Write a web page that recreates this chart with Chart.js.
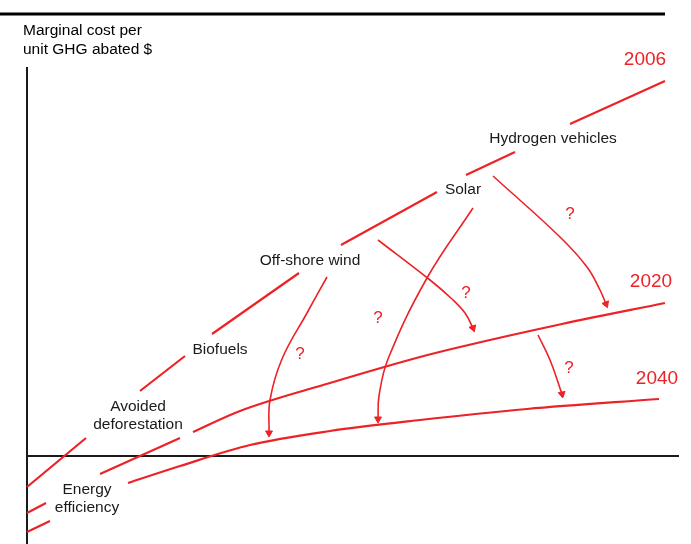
<!DOCTYPE html>
<html>
<head>
<meta charset="utf-8">
<script src="https://cdn.jsdelivr.net/npm/chart.js@4"></script>
<style>
html,body{margin:0;padding:0;background:#fff;}
canvas{display:block;}
</style>
</head>
<body>
<canvas id="c" width="691" height="544"></canvas>
<script>
// ---- Data (x = abatement units, y = marginal cost units; 0,0 = axes origin) ----
const curve2006 = [[0,-3.1],[5.9,1.8],null,[11.3,6.5],[15.8,10.0],null,[18.5,12.2],[27.2,18.3],null,
  [31.4,21.1],[41.0,26.4],null,[43.9,28.1],[48.8,30.4],null,[54.3,33.2],[63.8,37.5]];
const curve2020 = [[0,-7.6],[2.3,-6.5],null,[7.3,-1.8],[15.3,1.8],null,[16.6,2.4],[21.3,4.5],
  [30.3,7.3],[39.3,9.9],[43.3,10.9],[53.5,13.2],[63.8,15.3]];
const curve2040 = [[0,-5.7],[1.9,-4.7],null,[10.1,-2.7],[15.3,-1.0],[22.3,1.1],[30.3,2.5],
  [39.3,3.6],[50.0,4.7],[63.2,5.7]];
const arrowWind = [[30.0,17.9],[28.0,14.3],[25.5,9.7],[24.3,5.6],[24.2,2.3]];
const arrowSolar = [[44.6,24.8],[40.0,17.8],[36.1,9.7],[35.2,6.0],[35.1,3.7]];
const arrowSolar2 = [[35.1,21.6],[40.3,17.6],[42.5,15.7],[43.8,14.3],[44.6,12.8]];
const arrowHydrogen = [[46.6,28.0],[53.3,21.9],[56.0,18.9],[57.3,16.6],[57.9,15.2]];
const arrow2020 = [[51.1,12.1],[52.3,9.6],[53.5,6.2]];
const arrowHeadAngles = [180, 180, 160, 158, 170];
const yAxisLine = [[0,-8.8],[0,38.9]];
const xAxisLine = [[0,0],[65.2,0]];
const topRule = [[-2.7,44.2],[63.8,44.2]];
const techLabels = [
  {text:["Hydrogen vehicles"], x:52.6, y:31.7},
  {text:["Solar"], x:43.6, y:26.6},
  {text:["Off-shore wind"], x:28.3, y:19.5},
  {text:["Biofuels"], x:19.3, y:10.6},
  {text:["Avoided","deforestation"], x:11.1, y:4.0},
  {text:["Energy","efficiency"], x:6.0, y:-4.3}
];
const yearLabels = [
  {text:"2006", x:61.8, y:39.6},
  {text:"2020", x:62.4, y:17.4},
  {text:"2040", x:63.0, y:7.7}
];
const questionMarks = [[54.3,24.2],[43.9,16.3],[35.1,13.8],[27.3,10.2],[54.2,8.8]];
const axisTitle = ["Marginal cost per","unit GHG abated $"];

// ---- Build ----
const RED = '#ec2227';
const DARK = '#1a1a1a';
const FONT = '"Liberation Sans", Arial, sans-serif';
const toPts = arr => arr.map(p => p ? {x:p[0], y:p[1]} : {x:NaN, y:null});

function lineDs(arr, color, width, extra){
  return Object.assign({data: toPts(arr), showLine:true, borderColor:color, borderWidth:width,
    pointRadius:0, pointHoverRadius:0, fill:false, clip:false, spanGaps:false, tension:0}, extra||{});
}
const arrows = [arrowWind, arrowSolar, arrowSolar2, arrowHydrogen, arrow2020];
const headPts = arrows.map(a => a[a.length-1]);

const datasets = [
  {data: toPts(headPts), showLine:false, pointStyle:'triangle', pointRadius:4, pointHoverRadius:4,
   pointRotation: arrowHeadAngles, backgroundColor:RED, borderColor:RED, borderWidth:1, clip:false},
  ...arrows.map(a => lineDs(a, RED, 1.6, {tension:0.4})),
  lineDs(curve2006, RED, 2.2),
  lineDs(curve2020, RED, 2.2, {cubicInterpolationMode:'monotone'}),
  lineDs(curve2040, RED, 2.2, {cubicInterpolationMode:'monotone'}),
  lineDs(yAxisLine, DARK, 2),
  lineDs(xAxisLine, DARK, 2),
  lineDs(topRule, '#000', 3)
];

const textPlugin = {
  id:'texts',
  afterDatasetsDraw(chart){
    const ctx = chart.ctx, xs = chart.scales.x, ys = chart.scales.y;
    ctx.save();
    ctx.textBaseline = 'middle';
    ctx.textAlign = 'center';
    ctx.fillStyle = DARK;
    ctx.font = '15.5px ' + FONT;
    techLabels.forEach(l => {
      const px = xs.getPixelForValue(l.x), py = ys.getPixelForValue(l.y);
      const n = l.text.length;
      l.text.forEach((t,i) => ctx.fillText(t, px, py + (i-(n-1)/2)*18));
    });
    ctx.fillStyle = RED;
    ctx.font = '19px ' + FONT;
    yearLabels.forEach(l => ctx.fillText(l.text, xs.getPixelForValue(l.x), ys.getPixelForValue(l.y)));
    ctx.font = '17px ' + FONT;
    questionMarks.forEach(q => ctx.fillText('?', xs.getPixelForValue(q[0]), ys.getPixelForValue(q[1])));
    ctx.fillStyle = '#000';
    ctx.textAlign = 'left';
    ctx.font = '15.5px ' + FONT;
    ctx.fillText(axisTitle[0], 23, 31);
    ctx.fillText(axisTitle[1], 23, 50);
    ctx.restore();
  }
};

new Chart(document.getElementById('c'), {
  type:'scatter',
  data:{datasets},
  options:{
    responsive:false, animation:false, events:[],
    layout:{padding:0, autoPadding:false},
    plugins:{legend:{display:false}, tooltip:{enabled:false}},
    scales:{
      x:{type:'linear', min:-2.7, max:66.4, display:false},
      y:{type:'linear', min:-8.8, max:45.6, display:false}
    }
  },
  plugins:[textPlugin]
});
</script>
</body>
</html>
